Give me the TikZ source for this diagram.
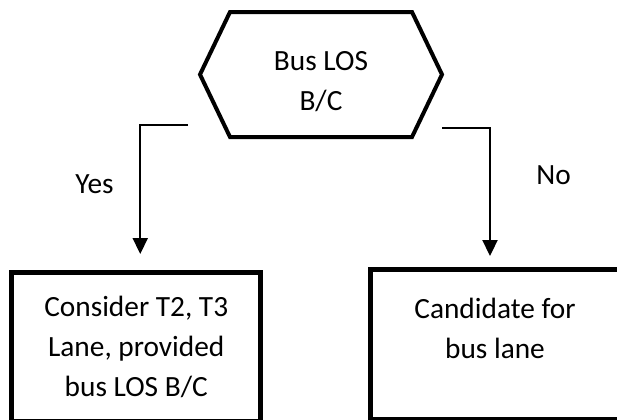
\documentclass[tikz,border=0pt]{standalone}
\usepackage{fontspec}
\setmainfont{Carlito}
\usetikzlibrary{arrows.meta}
\begin{document}
\begin{tikzpicture}[x=0.75pt,y=-0.75pt,
  lbl/.style={font=\fontsize{22}{30}\selectfont, align=center},
  decision/.style={lbl, rectangle, inner sep=0pt, outer sep=0pt,
    minimum width=181.5pt, minimum height=93.75pt},
  hexline/.style={line width=3pt, line join=miter},
  outcome/.style={lbl, draw, line width=3.75pt, rectangle, inner sep=0pt, outer sep=0pt},
  link/.style={line width=1.5pt, -{Triangle[length=12pt,width=11.25pt]}},
]
\useasboundingbox (0,0) rectangle (617,419);
\clip (0,0) rectangle (617,419);
\fill[white] (0,0) rectangle (617,419);

% decision: hexagon built on the anchors of its text node
\node[decision] (q) at (321,74.5) {\rule{0pt}{25pt}Bus LOS\\B/C};
\draw[hexline] (q.west) -- ([xshift=22.5pt]q.north west) -- ([xshift=-22.5pt]q.north east)
  -- (q.east) -- ([xshift=-22.5pt]q.south east) -- ([xshift=22.5pt]q.south west) -- cycle;

% outcomes
\node[outcome, minimum width=187.1pt, minimum height=112.1pt] (yesbox) at (136.25,346.75)
  {Consider T2, T3\\Lane, provided\\bus LOS B/C};
\node[outcome, minimum width=187.5pt, minimum height=112.5pt] (nobox) at (495,344.5)
  {Candidate for\\bus lane\rule[-24pt]{0pt}{0pt}};

% branch labels
\node[lbl, anchor=base] (yes) at (94.5,193) {Yes};
\node[lbl, anchor=base] (no) at (553.5,184) {No};

% branches
\coordinate (ys) at (188,125);
\coordinate (ns) at (442,128);
\draw[link] (ys) -| ([xshift=3pt,yshift=13.5pt]yesbox.north);
\draw[link] (ns) -| ([xshift=-3.75pt,yshift=10.1pt]nobox.north);
\end{tikzpicture}
\end{document}
